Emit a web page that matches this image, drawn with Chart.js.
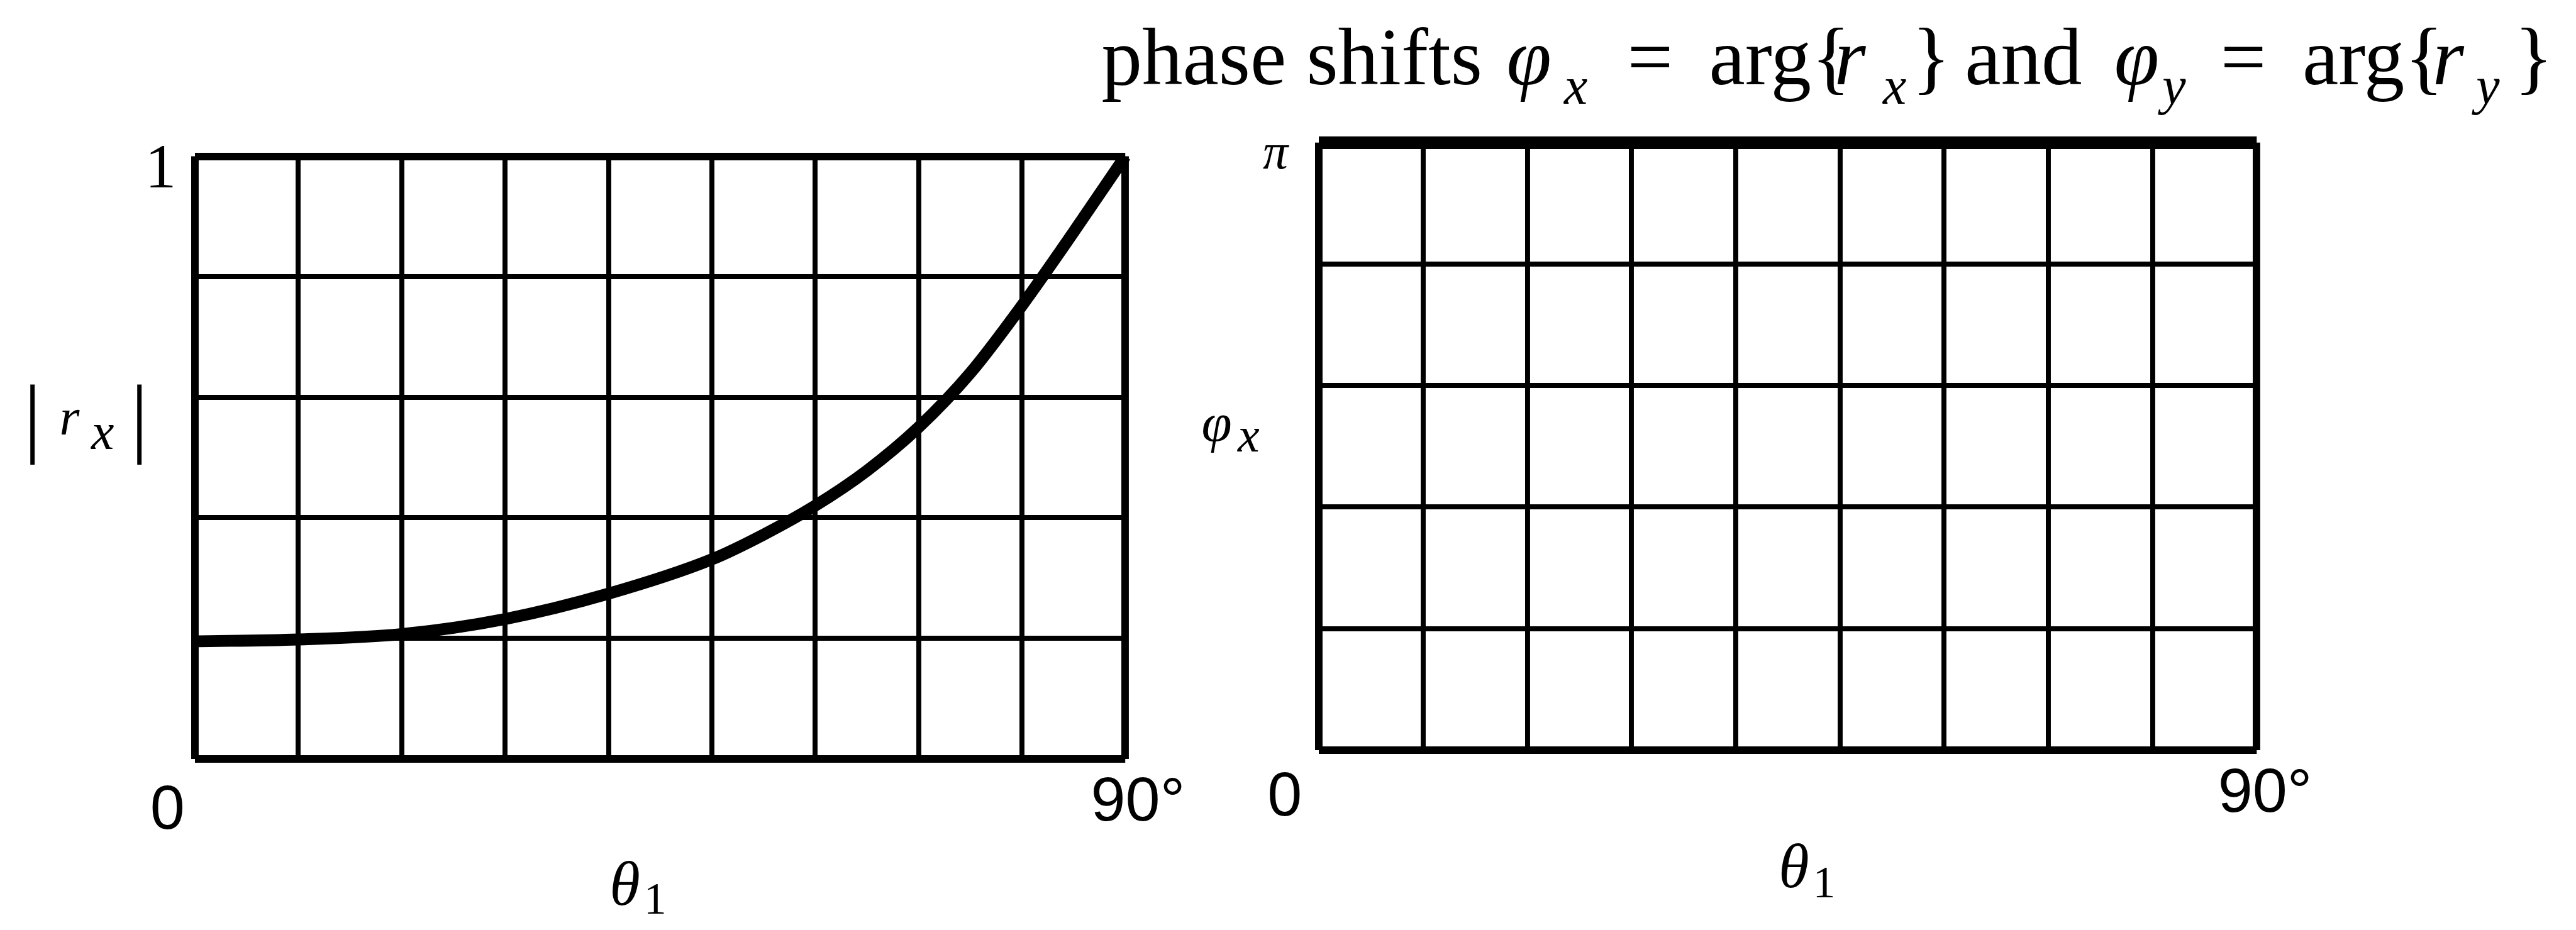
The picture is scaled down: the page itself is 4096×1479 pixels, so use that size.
<!DOCTYPE html>
<html>
<head>
<meta charset="utf-8">
<script src="https://cdn.jsdelivr.net/npm/chart.js@4.4.0/dist/chart.umd.min.js"></script>
<style>
  html, body { margin: 0; padding: 0; background: #fff; overflow: hidden; }
  #wrap { position: relative; width: 4096px; height: 1479px; }
  canvas { position: absolute; left: 0; top: 0; }
</style>
</head>
<body>
<div id="wrap">
  <canvas id="magChart" width="4096" height="1479"></canvas>
  <canvas id="phaseChart" width="4096" height="1479"></canvas>
</div>
<script>
const K = 0.994; // reference -> window
const W = 4096, H = 1479;

// values: |r_x| against theta_1 (degrees)
const theta = [0, 10, 20, 30, 40, 50, 55, 60, 65, 70, 75, 80, 85, 90];
const rxMag = [0.195, 0.198, 0.207, 0.232, 0.274, 0.331, 0.372, 0.42, 0.478, 0.55, 0.64, 0.752, 0.874, 1.0];

const thetaRange = [0, 90];
const magRange = [0, 1];
const phaseRange = [0, Math.PI];
const xGridCount = 10; // 9 columns
const yGridCount = 6;  // 5 rows

const xTickText = ['0', '90°'];
const magTopText = '1';
const phaseTopText = 'π';

const SERIF = '"Liberation Serif", "Times New Roman", serif';
const SANS = '"Liberation Sans", Arial, sans-serif';

const font = (size, fam, italic) => `${italic ? 'italic ' : ''}${Math.round(size * K)}px ${fam}`;

function txt(ctx, s, x, y, f, align) {
  ctx.font = f;
  ctx.textAlign = align || 'left';
  ctx.textBaseline = 'alphabetic';
  ctx.fillText(s, x, y);
}

function gridWidth(edge, inner, topEdge) {
  return (c) => {
    const n = c.scale.ticks.length;
    if (c.index === n - 1 && topEdge) return topEdge * K;
    return (c.index === 0 || c.index === n - 1) ? edge * K : inner * K;
  };
}

function scalesFor(yRange, topEdge) {
  return {
    x: {
      type: 'linear', min: thetaRange[0], max: thetaRange[1],
      ticks: { display: false, count: xGridCount },
      grid: { color: '#000', lineWidth: gridWidth(12, 8), drawTicks: false },
      border: { display: false }
    },
    y: {
      type: 'linear', min: yRange[0], max: yRange[1],
      ticks: { display: false, count: yGridCount },
      grid: { color: '#000', lineWidth: gridWidth(12, 8, topEdge), drawTicks: false },
      border: { display: false }
    }
  };
}

// axis labels for the magnitude plot
const magLabels = {
  id: 'magLabels',
  afterDraw(chart) {
    const { ctx, scales: { x, y } } = chart;
    const x0 = x.getPixelForValue(0), x1 = x.getPixelForValue(90);
    const y1 = y.getPixelForValue(1), y0 = y.getPixelForValue(0);
    ctx.save();
    ctx.fillStyle = '#000';
    txt(ctx, magTopText, x0 - 55 * K, y1 + 50 * K, font(100, SERIF), 'center');
    // |r_x|
    txt(ctx, '|', 52 * K, 713 * K, font(140, SERIF), 'center');
    txt(ctx, '|', 223 * K, 713 * K, font(140, SERIF), 'center');
    txt(ctx, 'r', 95 * K, 695 * K, font(82, SERIF, true));
    txt(ctx, 'x', 146 * K, 718 * K, font(82, SERIF, true));
    // ticks under the x axis
    txt(ctx, xTickText[0], x0 - 44 * K, y0 + 112 * K, font(100, SANS), 'center');
    txt(ctx, xTickText[1], x1 - 55 * K, y0 + 99 * K, font(100, SANS));
    // theta_1
    txt(ctx, 'θ', 975 * K, 1448 * K, font(100, SERIF, true));
    txt(ctx, '1', 1030 * K, 1462 * K, font(72, SERIF));
    ctx.restore();
  }
};

// labels and title for the phase plot
const titleParts = [
  ['phase shifts', 1762, 'main'],
  ['φ', 2410, 'it'],
  ['x', 2502, 'sub'],
  ['=', 2603, 'main'],
  ['arg{', 2734, 'main'],
  ['r', 2934, 'it'],
  ['x', 3012, 'sub'],
  ['}', 3058, 'main'],
  ['and', 3143, 'main'],
  ['φ', 3382, 'it'],
  ['y', 3459, 'sub'],
  ['=', 3552, 'main'],
  ['arg{', 3683, 'main'],
  ['r', 3891, 'it'],
  ['y', 3961, 'sub'],
  ['}', 4022, 'main']
];

const phaseLabels = {
  id: 'phaseLabels',
  afterDraw(chart) {
    const { ctx, scales: { x, y } } = chart;
    const x0 = x.getPixelForValue(0), x1 = x.getPixelForValue(90);
    const yTop = y.getPixelForValue(Math.PI), y0 = y.getPixelForValue(0);
    ctx.save();
    ctx.fillStyle = '#000';
    titleParts.forEach(([s, px, kind]) => {
      if (kind === 'main') txt(ctx, s, px * K, 135 * K, font(130, SERIF));
      else if (kind === 'it') txt(ctx, s, px * K, 135 * K, font(130, SERIF, true));
      else txt(ctx, s, px * K, 166 * K, font(85, SERIF, true));
    });
    txt(ctx, phaseTopText, x0 - 90 * K, yTop + 42 * K, font(80, SERIF, true));
    txt(ctx, 'φ', 1922 * K, 705 * K, font(88, SERIF, true));
    txt(ctx, 'x', 1980 * K, 722 * K, font(78, SERIF, true));
    txt(ctx, xTickText[0], x0 - 55 * K, y0 + 105 * K, font(100, SANS), 'center');
    txt(ctx, xTickText[1], x1 - 62 * K, y0 + 99 * K, font(100, SANS));
    txt(ctx, 'θ', 2845 * K, 1420 * K, font(100, SERIF, true));
    txt(ctx, '1', 2900 * K, 1436 * K, font(72, SERIF));
    ctx.restore();
  }
};

const common = {
  responsive: false,
  animation: false,
  events: [],
  plugins: { legend: { display: false }, tooltip: { enabled: false } }
};

new Chart(document.getElementById('magChart'), {
  type: 'line',
  data: {
    datasets: [{
      data: theta.map((t, i) => ({ x: t, y: rxMag[i] })),
      borderColor: '#000',
      borderWidth: 19 * K,
      pointRadius: 0,
      cubicInterpolationMode: 'monotone',
      clip: false
    }]
  },
  options: {
    ...common,
    layout: { padding: { left: 312 * K, top: 250 * K, right: W - 1800 * K, bottom: H - 1214 * K } },
    scales: scalesFor(magRange)
  },
  plugins: [magLabels]
});

new Chart(document.getElementById('phaseChart'), {
  type: 'line',
  data: { datasets: [{ data: [] }] },
  options: {
    ...common,
    layout: { padding: { left: 2110 * K, top: 228 * K, right: W - 3610 * K, bottom: H - 1200 * K } },
    scales: scalesFor(phaseRange, 20)
  },
  plugins: [phaseLabels]
});
</script>
</body>
</html>
